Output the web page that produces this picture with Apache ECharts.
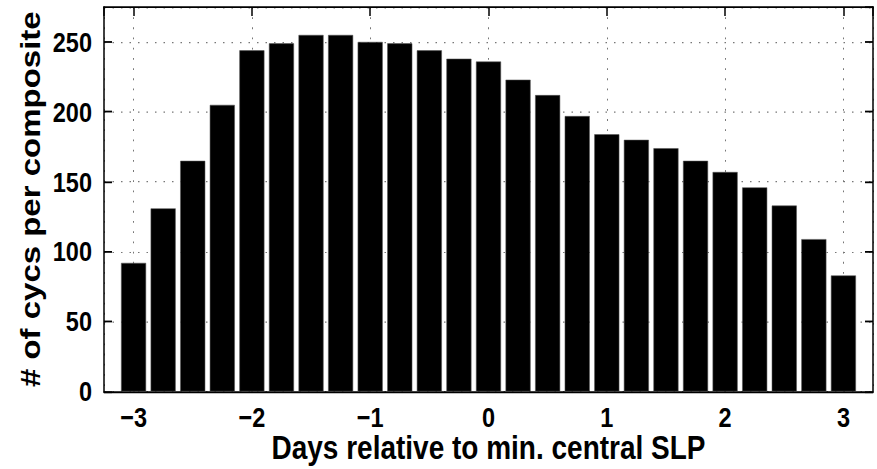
<!DOCTYPE html>
<html><head><meta charset="utf-8">
<script src="https://cdn.jsdelivr.net/npm/echarts@6/dist/echarts.min.js"></script>
<style>html,body{margin:0;padding:0;background:#fff;overflow:hidden}
#wrap{width:877px;height:469px;overflow:hidden}
#c{width:877px;height:391px;transform:scaleY(1.1995);transform-origin:0 0}</style>
</head><body><div id="wrap"><div id="c"></div></div>
<script>
const days = [-3,-2.75,-2.5,-2.25,-2,-1.75,-1.5,-1.25,-1,-0.75,-0.5,-0.25,0,0.25,0.5,0.75,1,1.25,1.5,1.75,2,2.25,2.5,2.75,3];
const counts = [92,131,165,205,244,249,255,255,250,249,244,238,236,223,212,197,184,180,174,165,157,146,133,109,83];
const xTitle = 'Days relative to min. central SLP';
const yTitle = '# of cycs per composite';

const FONT = '"Liberation Sans", Arial, sans-serif';
const chart = echarts.init(document.getElementById('c'), null, {renderer:'svg'});
const dotted = () => ({show:true, lineStyle:{color:'#777', width:1, type:[1.5,7]}});
const lbl = () => ({color:'#000', fontFamily:FONT, fontWeight:'bold', fontSize:23.5, lineHeight:20});
const tickX = () => ({show:true, inside:true, length:7.5, lineStyle:{color:'#000', width:1.5}});
const tickY = () => ({show:true, inside:true, length:8, lineStyle:{color:'#000', width:1.5}});
const frameLine = () => ({show:true, onZero:false, lineStyle:{color:'#000', width:1.5}});
chart.setOption({
  animation:false,
  grid:{left:104, right:4, top:5.8, bottom:64.6, show:false, containLabel:false, outerBoundsMode:'none'},
  xAxis:[{
    type:'value', min:-3.25, max:3.25, splitNumber:6, position:'bottom',
    axisLine:frameLine(),
    axisTick:tickX(),
    axisLabel:Object.assign({margin:11.5, showMinLabel:false, showMaxLabel:false,
      formatter:v => (v<0 ? '\u2212'+Math.abs(v) : String(v))}, lbl()),
    splitLine:dotted(),
    name:xTitle, nameLocation:'middle', nameGap:34.5, nameMoveOverlap:false,
    nameTextStyle:{color:'#000', fontFamily:FONT, fontWeight:'bold', fontSize:28, lineHeight:24}
  },{
    type:'value', min:-3.25, max:3.25, splitNumber:6, position:'top',
    axisLine:frameLine(), axisLabel:{show:false}, splitLine:{show:false},
    axisTick:tickX()
  }],
  yAxis:[{
    type:'value', min:0, max:275, interval:50, position:'left',
    axisLine:frameLine(),
    axisTick:tickY(),
    axisLabel:Object.assign({margin:12, showMaxLabel:false}, lbl()),
    splitLine:dotted(),
    name:yTitle, nameLocation:'middle', nameGap:60, nameRotate:90, nameMoveOverlap:false,
    nameTextStyle:{color:'#000', fontFamily:FONT, fontWeight:'bold', fontSize:27.5}
  },{
    type:'value', min:0, max:275, interval:50, position:'right',
    axisLine:frameLine(), axisLabel:{show:false}, splitLine:{show:false},
    axisTick:tickY()
  }],
  series:[{
    type:'bar', xAxisIndex:0, yAxisIndex:0, barWidth:25,
    data: days.map((d,i)=>[d, counts[i]]),
    itemStyle:{color:'#000', borderColor:'#555', borderWidth:0.5}
  }]
});
</script></body></html>
